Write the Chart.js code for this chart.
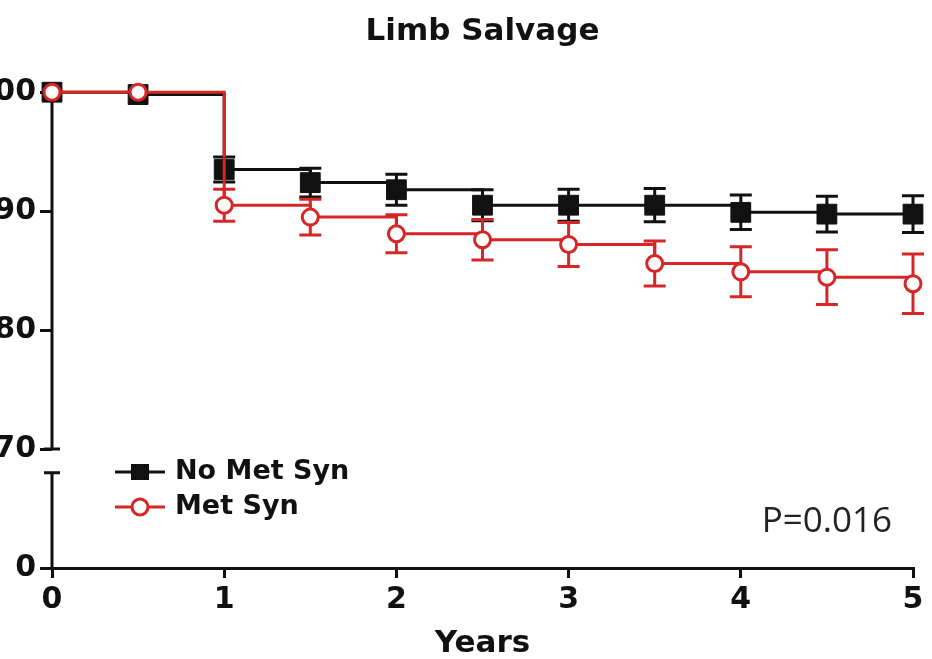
<!DOCTYPE html>
<html>
<head>
<meta charset="utf-8">
<script src="https://cdn.jsdelivr.net/npm/chart.js@4.4.0/dist/chart.umd.min.js"></script>
<style>
  body { margin: 0; background: #fff; }
  canvas { display: block; }
</style>
</head>
<body>
<canvas id="km" width="932" height="659"></canvas>
<script>
// follow-up times (years) and survival estimates (%)
const years = [0, 0.5, 1, 1.5, 2, 2.5, 3, 3.5, 4, 4.5, 5];
const noMetSyn = [100, 99.8, 93.5, 92.4, 91.8, 90.5, 90.5, 90.5, 89.9, 89.75, 89.75];
const noMetSynErr = [0, 0, 1.05, 1.2, 1.3, 1.3, 1.35, 1.4, 1.45, 1.5, 1.55];
const metSyn = [100, 100, 90.5, 89.5, 88.1, 87.6, 87.2, 85.6, 84.9, 84.45, 83.9];
const metSynErr = [0, 0, 1.35, 1.5, 1.6, 1.7, 1.85, 1.9, 2.1, 2.3, 2.5];
const yTicksTop = [70, 80, 90, 100];
const yTicksBottom = [0];
const pValue = "P=0.016";

const RED = "#d62626";
const BLACK = "#111";
const FAMILY = "'DejaVu Sans', sans-serif";
const LOWER_AXIS_TOP = 8; // where the lower piece of the broken y axis stops

const toPoints = (vals) => years.map((t, i) => ({ x: t, y: vals[i] }));

// error bars, drawn before the lines and markers
const errorBars = {
  id: "errorBars",
  beforeDatasetsDraw(chart) {
    const { ctx } = chart;
    const y = chart.scales.y;
    chart.data.datasets.forEach((ds, i) => {
      const meta = chart.getDatasetMeta(i);
      ctx.save();
      ctx.strokeStyle = ds.borderColor;
      ctx.lineWidth = 3;
      meta.data.forEach((pt, j) => {
        const e = ds.errors[j];
        if (!e) return;
        const hi = y.getPixelForValue(ds.data[j].y + e);
        const lo = y.getPixelForValue(ds.data[j].y - e);
        ctx.beginPath();
        ctx.moveTo(pt.x, hi); ctx.lineTo(pt.x, lo);
        ctx.moveTo(pt.x - 11, hi); ctx.lineTo(pt.x + 11, hi);
        ctx.moveTo(pt.x - 11, lo); ctx.lineTo(pt.x + 11, lo);
        ctx.stroke();
      });
      ctx.restore();
    });
  }
};

// y axis line with a break between 70 and 0
const brokenAxis = {
  id: "brokenAxis",
  beforeDatasetsDraw(chart) {
    const { ctx, chartArea } = chart;
    const y = chart.scales.y, y0 = chart.scales.y0;
    const x = chartArea.left;
    const top = y.getPixelForValue(y.max), mid = y.getPixelForValue(y.min);
    const low = y0.getPixelForValue(LOWER_AXIS_TOP), bottom = y0.getPixelForValue(0);
    ctx.save();
    ctx.strokeStyle = BLACK;
    ctx.lineWidth = 3;
    ctx.beginPath();
    ctx.moveTo(x, top - 2); ctx.lineTo(x, mid);
    ctx.moveTo(x - 8, mid); ctx.lineTo(x + 8, mid);
    ctx.moveTo(x, low); ctx.lineTo(x, bottom + 1);
    ctx.moveTo(x - 8, low); ctx.lineTo(x + 8, low);
    ctx.stroke();
    ctx.restore();
  }
};

// legend inside the plot + p value
const annotations = {
  id: "annotations",
  afterDraw(chart) {
    const { ctx, chartArea } = chart;
    const x0 = chartArea.left + 63;
    const rows = [
      { label: "No Met Syn", color: BLACK, square: true, y: chartArea.bottom - 96 },
      { label: "Met Syn", color: RED, square: false, y: chartArea.bottom - 61 }
    ];
    ctx.save();
    rows.forEach((r) => {
      ctx.strokeStyle = r.color;
      ctx.lineWidth = 3;
      ctx.beginPath();
      ctx.moveTo(x0, r.y); ctx.lineTo(x0 + 50, r.y);
      ctx.stroke();
      if (r.square) {
        ctx.fillStyle = r.color;
        ctx.fillRect(x0 + 25 - 9, r.y - 8, 18, 16);
      } else {
        ctx.fillStyle = "#fff";
        ctx.beginPath();
        ctx.arc(x0 + 25, r.y, 8, 0, Math.PI * 2);
        ctx.fill();
        ctx.stroke();
      }
      ctx.fillStyle = BLACK;
      ctx.font = "bold 27px " + FAMILY;
      ctx.textBaseline = "middle";
      ctx.textAlign = "left";
      ctx.fillText(r.label, x0 + 60, r.y);
    });
    ctx.font = "35px 'Open Sans', sans-serif";
    ctx.fillStyle = "#222";
    ctx.textAlign = "right";
    ctx.textBaseline = "middle";
    ctx.fillText(pValue, chartArea.right - 21, chartArea.bottom - 46);
    ctx.restore();
  }
};

const tickFont = { family: FAMILY, size: 30, weight: "bold" };

new Chart(document.getElementById("km"), {
  type: "line",
  data: {
    datasets: [
      {
        label: "No Met Syn",
        data: toPoints(noMetSyn),
        errors: noMetSynErr,
        borderColor: BLACK,
        backgroundColor: BLACK,
        borderWidth: 3,
        stepped: "before",
        pointStyle: "rect",
        pointRadius: 14,
        pointBorderWidth: 1,
        pointBackgroundColor: BLACK,
        clip: false,
        order: 2
      },
      {
        label: "Met Syn",
        data: toPoints(metSyn),
        errors: metSynErr,
        borderColor: RED,
        backgroundColor: RED,
        borderWidth: 3,
        stepped: "before",
        pointStyle: "circle",
        pointRadius: 8,
        pointBorderWidth: 3,
        pointBackgroundColor: "#fff",
        clip: false,
        order: 1
      }
    ]
  },
  options: {
    responsive: false,
    animation: false,
    devicePixelRatio: 1,
    layout: { padding: { top: 0, right: 19, bottom: 0, left: 0 } },
    plugins: {
      legend: { display: false },
      tooltip: { enabled: false },
      title: {
        display: true,
        fullSize: false,
        text: "Limb Salvage",
        color: BLACK,
        font: { family: FAMILY, size: 31, weight: "bold" },
        padding: { top: 13, bottom: 42 }
      }
    },
    scales: {
      x: {
        type: "linear",
        min: 0,
        max: 5,
        ticks: { stepSize: 1, font: tickFont, color: BLACK, padding: 4, maxRotation: 0 },
        grid: { drawOnChartArea: false, tickLength: 10, lineWidth: 3, color: BLACK },
        border: { display: true, width: 3, color: BLACK },
        title: {
          display: true,
          text: "Years",
          color: BLACK,
          font: { family: FAMILY, size: 31, weight: "bold" },
          padding: { top: 0, bottom: -4 }
        },
        afterFit(s) { s.height = 91; }
      },
      y: {
        type: "linear",
        position: "left",
        stack: "survival",
        stackWeight: 3,
        weight: 1,
        min: 70,
        max: 100,
        afterBuildTicks(s) { s.ticks = yTicksTop.map((v) => ({ value: v })); },
        ticks: { font: tickFont, color: BLACK, padding: 4 },
        grid: { drawOnChartArea: false, tickLength: 12, lineWidth: 3, color: BLACK },
        border: { display: false },
        afterFit(s) { s.width = 52; }
      },
      y0: {
        type: "linear",
        position: "left",
        stack: "survival",
        stackWeight: 1,
        weight: 0,
        min: 0,
        max: 10,
        afterBuildTicks(s) { s.ticks = yTicksBottom.map((v) => ({ value: v })); },
        ticks: { font: tickFont, color: BLACK, padding: 4 },
        grid: { drawOnChartArea: false, tickLength: 12, lineWidth: 3, color: BLACK },
        border: { display: false },
        afterFit(s) { s.width = 52; }
      }
    }
  },
  plugins: [errorBars, brokenAxis, annotations]
});
</script>
</body>
</html>
